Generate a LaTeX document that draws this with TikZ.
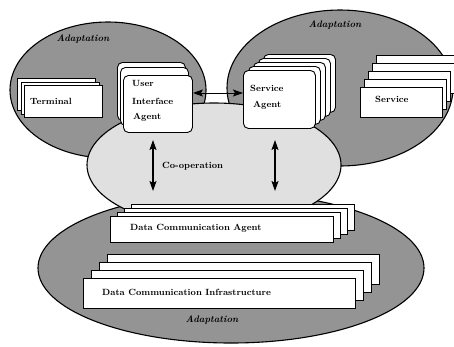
\documentclass[tikz,border=0pt]{standalone}
\usetikzlibrary{arrows.meta}
\begin{document}
\begin{tikzpicture}[x=1pt,y=-1pt,
  ell/.style={draw=black, line width=1.1pt, fill=black!42},
  coop/.style={draw=black, line width=1.1pt, fill=black!12},
  box/.style={draw=black, line width=0.9pt, fill=white, inner sep=0pt, anchor=north west},
  rbox/.style={box, rounded corners=5pt},
  lbl/.style={font=\fontsize{9}{10}\selectfont\bfseries, anchor=west, inner sep=0pt},
  ada/.style={font=\fontsize{9.5}{10}\selectfont\bfseries\itshape, inner sep=0pt},
  arr/.style={{Stealth[length=10pt,width=7pt,inset=2pt]}-{Stealth[length=10pt,width=7pt,inset=2pt]}, line width=1pt},
  varr/.style={arr, line width=1.6pt}
]
\useasboundingbox (0,0) rectangle (454,346);
\fill[white] (0,0) rectangle (454,346);

% adaptation areas
\draw[ell] (108,90) ellipse [x radius=98pt, y radius=68pt];
\draw[ell] (340,88) ellipse [x radius=113pt, y radius=78pt];
\draw[ell] (231,268) ellipse [x radius=193pt, y radius=75pt];
% co-operation area
\draw[coop] (214,165) ellipse [x radius=127pt, y radius=62pt];

\node[ada] (ad1) at (83,39) {Adaptation};
\node[ada] (ad2) at (335,25) {Adaptation};
\node[ada] (ad3) at (212,320) {Adaptation};

% Terminal
\node[box, minimum width=78pt, minimum height=32pt] (term2) at (17,78) {};
\node[box, minimum width=78pt, minimum height=32pt] (term1) at (20.5,81.5) {};
\node[box, minimum width=78pt, minimum height=32pt] (term) at (24,85) {};
\node[lbl] (termt) at (30,101) {Terminal};

% User Interface Agent
\node[rbox, minimum width=68pt, minimum height=58pt] (ui2) at (117,62) {};
\node[rbox, minimum width=68pt, minimum height=58pt] (ui1) at (120,67) {};
\node[rbox, minimum width=69pt, minimum height=57pt] (ui) at (123,75) {};
\node[lbl] (uit1) at (132,83) {User};
\node[lbl] (uit2) at (132,101) {Interface};
\node[lbl] (uit3) at (133,117) {Agent};

% Service Agent
\foreach \k in {4,3,2,1}{
  \node[rbox, minimum width=72pt, minimum height=58pt] (sa\k) at (243+5*\k,70-4*\k) {};
}
\node[rbox, minimum width=72pt, minimum height=58pt] (sa) at (243,70) {};
\node[lbl] (sat1) at (250,88) {Service};
\node[lbl] (sat2) at (253,105) {Agent};

% Service
\foreach \k in {4,3,2,1}{
  \node[box, minimum width=82pt, minimum height=30pt] (sv\k) at (360+4*\k,87-8*\k) {};
}
\node[box, minimum width=82pt, minimum height=30pt] (sv) at (360,87) {};
\node[lbl] (svt) at (375,99) {Service};

% Data Communication Agent
\foreach \k in {3,2,1}{
  \node[box, minimum width=223pt, minimum height=26pt] (dca\k) at (110+7*\k,216-4*\k) {};
}
\node[box, minimum width=223pt, minimum height=26pt] (dca) at (110,216) {};
\node[lbl] (dcat) at (130,228) {Data Communication Agent};

% Data Communication Infrastructure
\foreach \k in {3,2,1}{
  \node[box, minimum width=272pt, minimum height=30pt] (dci\k) at (83+8*\k,278-8*\k) {};
}
\node[box, minimum width=272pt, minimum height=30pt] (dci) at (83,278) {};
\node[lbl] (dcit) at (102,292) {Data Communication Infrastructure};

% arrows
\coordinate (hy) at (0,93);
\draw[arr] (ui.east |- hy) -- (sa.west |- hy);
\node[lbl] (coopt) at (162,166) {Co-operation};
\coordinate (v1a) at (153,140);
\coordinate (v1b) at (153,191);
\coordinate (v2a) at (275,140);
\coordinate (v2b) at (275,191);
\draw[varr] (v1a) -- (v1b);
\draw[varr] (v2a) -- (v2b);
\end{tikzpicture}
\end{document}
